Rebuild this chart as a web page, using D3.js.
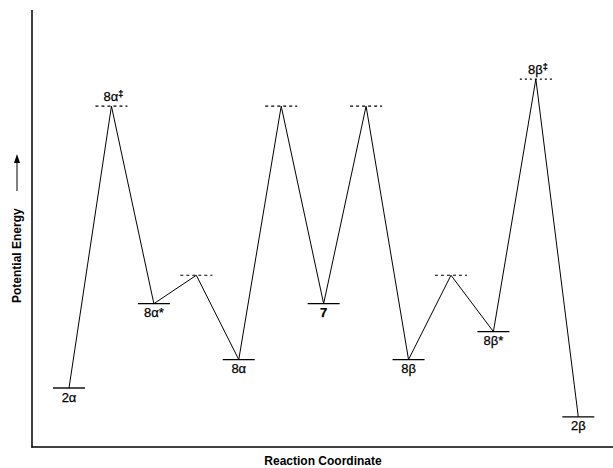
<!DOCTYPE html>
<html>
<head>
<meta charset="utf-8">
<script src="https://cdn.jsdelivr.net/npm/d3@7/dist/d3.min.js"></script>
<style>
  html, body { margin: 0; padding: 0; background: #fff; }
  svg { display: block; }
  text { font-family: "Liberation Sans", Arial, Helvetica, sans-serif; fill: #000; }
</style>
</head>
<body>
<svg id="chart" width="613" height="468"></svg>
<script>
// Stationary points along the reaction path (arbitrary energy units)
const stateLabels = ["2α", "8α‡", "8α*", "", "8α", "", "7", "", "8β", "", "8β*", "8β‡", "2β"];
const stateKinds  = ["min", "ts", "min", "ts", "min", "ts", "min", "ts", "min", "ts", "min", "ts", "min"];
const energies    = [13.5, 78, 32.8, 39.3, 20, 78, 32.8, 78, 20, 39.3, 26.4, 84.2, 6.9];

const svg = d3.select("#chart");

const x = d3.scaleLinear().domain([0, stateLabels.length - 1]).range([69, 578.3]);
const y = d3.scaleLinear().domain([0, 100]).range([447, 10]);

const halfW = 16;
const pts = energies.map((e, i) => ({ i, e, label: stateLabels[i], kind: stateKinds[i] }));

// Axes frame
svg.append("line").attr("x1", 32).attr("x2", 32).attr("y1", 10).attr("y2", 447.5)
  .attr("stroke", "#000").attr("stroke-width", 1.5);
svg.append("line").attr("x1", 31.25).attr("x2", 613).attr("y1", 447).attr("y2", 447)
  .attr("stroke", "#000").attr("stroke-width", 1.5);

// Connecting path
svg.append("path")
  .datum(pts)
  .attr("fill", "none")
  .attr("stroke", "#000")
  .attr("stroke-width", 1)
  .attr("d", d3.line().x(d => x(d.i)).y(d => y(d.e)));

// Minima: solid levels
svg.selectAll("line.min")
  .data(pts.filter(d => d.kind === "min"))
  .join("line")
  .attr("class", "min")
  .attr("x1", d => x(d.i) - halfW).attr("x2", d => x(d.i) + halfW)
  .attr("y1", d => y(d.e)).attr("y2", d => y(d.e))
  .attr("stroke", "#000").attr("stroke-width", 1.4);

// Transition states: dashed levels
svg.selectAll("line.ts")
  .data(pts.filter(d => d.kind === "ts"))
  .join("line")
  .attr("class", "ts")
  .attr("x1", d => x(d.i) - halfW).attr("x2", d => x(d.i) + halfW)
  .attr("y1", d => y(d.e)).attr("y2", d => y(d.e))
  .attr("stroke", "#000").attr("stroke-width", 1.2)
  .attr("stroke-dasharray", d => d.label === "8β‡" ? "2,3" : "3,3");

// Labels: below minima, above labelled transition states; ‡ set as a superscript
const labels = svg.selectAll("text.lbl")
  .data(pts.filter(d => d.label !== ""))
  .join("text")
  .attr("class", "lbl")
  .attr("x", d => x(d.i) + (d.label.endsWith("‡") ? 2 : 0))
  .attr("y", d => d.kind === "min" ? y(d.e) + 13.5 : y(d.e) - 5)
  .attr("text-anchor", "middle")
  .attr("font-size", 13)
  .attr("font-weight", d => d.label === "7" ? "bold" : "normal")
  .attr("stroke", "#000").attr("stroke-width", 0.25);

labels.append("tspan").text(d => d.label.replace("‡", ""));
labels.filter(d => d.label.endsWith("‡"))
  .append("tspan")
  .attr("dy", -4)
  .attr("font-size", 9)
  .attr("font-weight", "bold")
  .text("‡");

// Axis titles
svg.append("text")
  .attr("x", 323).attr("y", 465)
  .attr("text-anchor", "middle")
  .attr("font-size", 12).attr("font-weight", "bold")
  .text("Reaction Coordinate");

svg.append("text")
  .attr("transform", "translate(21,303) rotate(-90)")
  .attr("text-anchor", "start")
  .attr("font-size", 12).attr("font-weight", "bold")
  .text("Potential Energy");

// Arrow next to the energy title
svg.append("line")
  .attr("x1", 17).attr("x2", 17).attr("y1", 191).attr("y2", 162)
  .attr("stroke", "#000").attr("stroke-width", 1);
svg.append("path")
  .attr("d", "M17,154 L14,163 L20,163 Z")
  .attr("fill", "#000");
</script>
</body>
</html>
